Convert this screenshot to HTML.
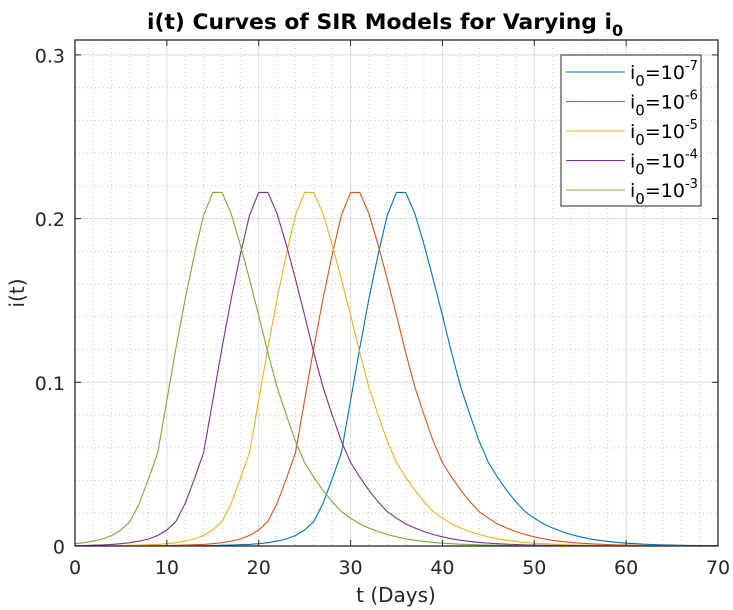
<!DOCTYPE html>
<html><head><meta charset="utf-8"><style>
html,body{margin:0;padding:0;background:#fff;}
svg{display:block;font-family:"DejaVu Sans","Liberation Sans",sans-serif;}
</style></head><body>
<svg id="chart" width="733" height="610" viewBox="0 0 733 610">
<rect width="733" height="610" fill="#fff"/>
<g id="grid"></g>
<g id="series"></g>
<g id="axes"></g>
<text x="147" y="29" font-size="21" font-weight="bold" fill="#000"><tspan textLength="465" lengthAdjust="spacingAndGlyphs">i(t) Curves of SIR Models for Varying i</tspan><tspan dy="7" font-size="16">0</tspan></text>
<text x="396" y="602" text-anchor="middle" font-size="20" fill="#262626">t (Days)</text>
<text transform="translate(24,293) rotate(-90)" text-anchor="middle" font-size="20" fill="#262626">i(t)</text>
<g id="legend"></g>
</svg>
<script>
const days=[0,1,2,3,4,5,6,7,8,9,10,11,12,13,14,15,16,17,18,19,20,21,22,23,24,25,26,27,28,29,30,31,32,33,34,35,36,37,38,39,40,41,42,43,44,45,46,47,48,49,50,51,52,53,54,55,56,57,58,59,60,61,62,63,64,65,66,67,68,69,70];
const seriesG=[0.0014,0.002,0.003,0.0043,0.0064,0.0098,0.015,0.026,0.041,0.057,0.089,0.121,0.151,0.178,0.202,0.216,0.216,0.203,0.184,0.163,0.141,0.118,0.097,0.08,0.064,0.051,0.042,0.034,0.027,0.021,0.017,0.0135,0.011,0.0088,0.007,0.0056,0.0044,0.0035,0.0028,0.0022,0.0017,0.0014,0.0011,0.0009,0.0007,0.00055,0.00045,0.00035,0.00028,0.00022,0.00017,0.00013,0.0001,0.00008,0.00006,0.00005,0.00004,0.00003,0.00002,0.00002,0.00001,0.00001,0,0,0,0,0,0,0,0,0];
const seriesP=[0.0002,0.0003,0.0005,0.0007,0.001,0.0014,0.002,0.003,0.0043,0.0064,0.0098,0.015,0.026,0.041,0.057,0.089,0.121,0.151,0.178,0.202,0.216,0.216,0.203,0.184,0.163,0.141,0.118,0.097,0.08,0.064,0.051,0.042,0.034,0.027,0.021,0.017,0.0135,0.011,0.0088,0.007,0.0056,0.0044,0.0035,0.0028,0.0022,0.0017,0.0014,0.0011,0.0009,0.0007,0.00055,0.00045,0.00035,0.00028,0.00022,0.00017,0.00013,0.0001,0.00008,0.00006,0.00005,0.00004,0.00003,0.00002,0.00002,0.00001,0.00001,0,0,0,0];
const seriesY=[0.00005,0.00007,0.0001,0.00015,0.0002,0.0003,0.0004,0.0006,0.0008,0.001,0.0014,0.002,0.003,0.0043,0.0064,0.0098,0.015,0.026,0.041,0.057,0.089,0.121,0.151,0.178,0.202,0.216,0.216,0.203,0.184,0.163,0.141,0.118,0.097,0.08,0.064,0.051,0.042,0.034,0.027,0.021,0.017,0.0135,0.011,0.0088,0.007,0.0056,0.0044,0.0035,0.0028,0.0022,0.0017,0.0014,0.0011,0.0009,0.0007,0.00055,0.00045,0.00035,0.00028,0.00022,0.00017,0.00013,0.0001,0.00008,0.00006,0.00005,0.00004,0.00003,0.00002,0.00002,0.00001];
const seriesR=[0,0,0,0,0,0.00005,0.00007,0.0001,0.00015,0.0002,0.0003,0.0004,0.0006,0.0008,0.001,0.0014,0.002,0.003,0.0043,0.0064,0.0098,0.015,0.026,0.041,0.057,0.089,0.121,0.151,0.178,0.202,0.216,0.216,0.203,0.184,0.163,0.141,0.118,0.097,0.08,0.064,0.051,0.042,0.034,0.027,0.021,0.017,0.0135,0.011,0.0088,0.007,0.0056,0.0044,0.0035,0.0028,0.0022,0.0017,0.0014,0.0011,0.0009,0.0007,0.00055,0.00045,0.00035,0.00028,0.00022,0.00017,0.00013,0.0001,0.00008,0.00006,0.00005];
const seriesB=[0,0,0,0,0,0,0,0,0,0,0.00005,0.00007,0.0001,0.00015,0.0002,0.0003,0.0004,0.0006,0.0008,0.001,0.0014,0.002,0.003,0.0043,0.0064,0.0098,0.015,0.026,0.041,0.057,0.089,0.121,0.151,0.178,0.202,0.216,0.216,0.203,0.184,0.163,0.141,0.118,0.097,0.08,0.064,0.051,0.042,0.034,0.027,0.021,0.017,0.0135,0.011,0.0088,0.007,0.0056,0.0044,0.0035,0.0028,0.0022,0.0017,0.0014,0.0011,0.0009,0.0007,0.00055,0.00045,0.00035,0.00028,0.00022,0.00017];
const seriesLabels=["-7","-6","-5","-4","-3"];
const xTicks=[0,10,20,30,40,50,60,70];
const yTicks=[0,0.1,0.2,0.3];
const yTickLabels=["0","0.1","0.2","0.3"];

const NS="http://www.w3.org/2000/svg";
const L=75,R=718,T=40,B=546;
const xMax=70;
function xs(v){return L+v/xMax*(R-L);}
function ys(v){return B-v*1637;}
function mk(tag,attrs,parent){const e=document.createElementNS(NS,tag);for(const k in attrs)e.setAttribute(k,attrs[k]);parent.appendChild(e);return e;}
const grid=document.getElementById('grid'),axes=document.getElementById('axes'),ser=document.getElementById('series'),leg=document.getElementById('legend');
for(let v=2;v<xMax;v+=2){if(v%10===0)continue;const l=mk('line',{x1:xs(v),x2:xs(v),y1:T,y2:B,stroke:'#c8c8c8','stroke-width':1,'stroke-dasharray':'1,3'},grid);

}
for(let i=1;i<16;i++){const v=i*0.02;if(i%5===0)continue;const y=ys(v);if(y<T)break;const l=mk('line',{x1:L,x2:R,y1:y,y2:y,stroke:'#c8c8c8','stroke-width':1,'stroke-dasharray':'1,3'},grid);

}
xTicks.forEach(v=>{const l=mk('line',{x1:xs(v),x2:xs(v),y1:T,y2:B,stroke:'#dcdcdc','stroke-width':1},grid);


const t1=mk('line',{x1:xs(v),x2:xs(v),y1:B,y2:B-6,stroke:'#262626','stroke-width':1},axes);


const t2=mk('line',{x1:xs(v),x2:xs(v),y1:T,y2:T+6,stroke:'#262626','stroke-width':1},axes);


const tx=mk('text',{x:xs(v),y:B+28,'text-anchor':'middle','font-size':19,fill:'#262626'},axes);tx.textContent=v;

});
yTicks.forEach((v,i)=>{const y=ys(v);const l=mk('line',{x1:L,x2:R,y1:y,y2:y,stroke:'#dcdcdc','stroke-width':1},grid);


const t1=mk('line',{x1:L,x2:L+6,y1:y,y2:y,stroke:'#262626','stroke-width':1},axes);


const t2=mk('line',{x1:R,x2:R-6,y1:y,y2:y,stroke:'#262626','stroke-width':1},axes);


const tx=mk('text',{x:L-10,y:y+7.5,'text-anchor':'end','font-size':19,fill:'#262626'},axes);tx.textContent=yTickLabels[i];

});
const box=mk('rect',{x:L,y:T,width:R-L,height:B-T,fill:'none',stroke:'#262626','stroke-width':1.3},axes);


const allSeries=[seriesB,seriesR,seriesY,seriesP,seriesG];
const colors=['#0072bd','#d95319','#edb120','#7e2f8e','#77ac30'];
allSeries.forEach((s,k)=>{const pts=s.map((v,i)=>xs(days[i]).toFixed(1)+','+ys(v).toFixed(1)).join(' ');
const p=mk('polyline',{points:pts,fill:'none',stroke:colors[k],'stroke-width':1.1},ser);

});
const lb=mk('rect',{x:561,y:55,width:140,height:151,fill:'#fff',stroke:'#262626','stroke-width':1},leg);


seriesLabels.forEach((lab,k)=>{const y=72+k*29.5;const g=mk('g',{},leg);


mk('line',{x1:566,x2:625,y1:y,y2:y,stroke:colors[k],'stroke-width':1},g);
const t=mk('text',{x:630,y:y+7,'font-size':19,fill:'#000'},g);
t.innerHTML='i<tspan dy="7" font-size="15">0</tspan><tspan dy="-7">=10</tspan><tspan dy="-9" font-size="13">'+lab+'</tspan>';});
</script>
</body></html>
